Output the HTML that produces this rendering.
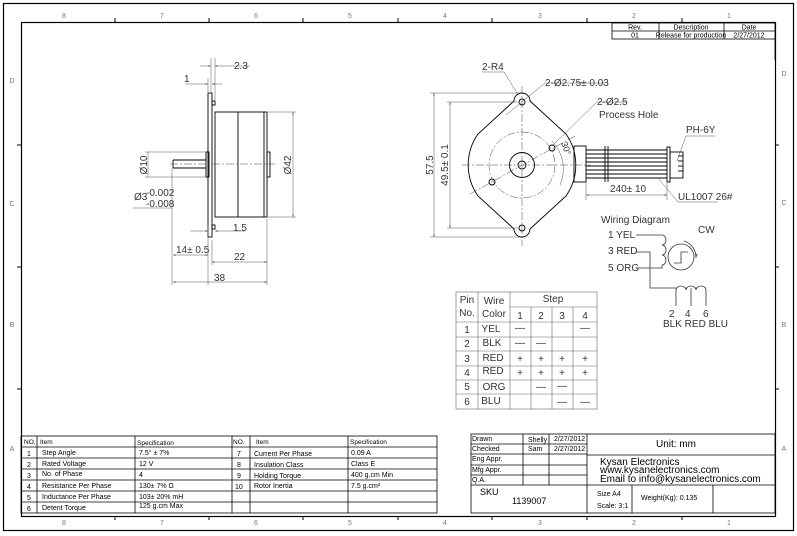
<!DOCTYPE html>
<html><head><meta charset="utf-8"><style>
html,body{margin:0;padding:0;background:#fff;}
svg{display:block;font-family:"Liberation Sans",sans-serif;}
.t{font-size:7px;fill:#000}
.d{font-size:10px;fill:#333}
.g{fill:#777;font-size:7px}
</style></head><body>
<svg width="797" height="536" viewBox="0 0 797 536" xmlns="http://www.w3.org/2000/svg">
<defs><marker id="a" viewBox="0 0 6 6" refX="6" refY="3" markerWidth="5" markerHeight="5" orient="auto-start-reverse"><path d="M0,1 L6,3 L0,5 Z" fill="#555"/></marker></defs>
<rect x="0" y="0" width="797" height="536" fill="#fff"/>
<rect x="3.5" y="3.5" width="790" height="527" fill="none" stroke="#000" stroke-width="1.2"/>
<rect x="21.5" y="22.5" width="754" height="494" fill="none" stroke="#000" stroke-width="1.2"/>
<g stroke="#000" stroke-width="1">
<line x1="115" y1="18" x2="115" y2="22"/><line x1="209" y1="18" x2="209" y2="22"/><line x1="303" y1="18" x2="303" y2="22"/><line x1="398" y1="18" x2="398" y2="22"/><line x1="492" y1="18" x2="492" y2="22"/><line x1="587" y1="18" x2="587" y2="22"/><line x1="682" y1="18" x2="682" y2="22"/>
<line x1="115" y1="516" x2="115" y2="520"/><line x1="209" y1="516" x2="209" y2="520"/><line x1="303" y1="516" x2="303" y2="520"/><line x1="398" y1="516" x2="398" y2="520"/><line x1="492" y1="516" x2="492" y2="520"/><line x1="587" y1="516" x2="587" y2="520"/><line x1="682" y1="516" x2="682" y2="520"/>
<line x1="17" y1="145" x2="21" y2="145"/><line x1="17" y1="267" x2="21" y2="267"/><line x1="17" y1="389" x2="21" y2="389"/>
<line x1="775" y1="145" x2="779" y2="145"/><line x1="775" y1="267" x2="779" y2="267"/><line x1="775" y1="389" x2="779" y2="389"/>
</g>
<g class="g" text-anchor="middle">
<text x="64" y="18">8</text><text x="162" y="18">7</text><text x="256" y="18">6</text><text x="350" y="18">5</text><text x="445" y="18">4</text><text x="540" y="18">3</text><text x="634" y="18">2</text><text x="729" y="18">1</text>
<text x="64" y="525">8</text><text x="162" y="525">7</text><text x="256" y="525">6</text><text x="350" y="525">5</text><text x="445" y="525">4</text><text x="540" y="525">3</text><text x="634" y="525">2</text><text x="729" y="525">1</text>
<text x="12" y="83">D</text><text x="12" y="206">C</text><text x="12" y="327">B</text><text x="12" y="451">A</text>
<text x="784" y="76">D</text><text x="784" y="205">C</text><text x="784" y="327">B</text><text x="784" y="451">A</text>
</g>
<g stroke="#000" stroke-width="0.8" fill="none">
<rect x="612" y="23" width="163" height="16"/>
<line x1="612" y1="31" x2="775" y2="31"/>
<line x1="659" y1="23" x2="659" y2="39"/><line x1="724" y1="23" x2="724" y2="39"/>
<line x1="775" y1="39" x2="775" y2="60"/>
</g>
<g class="t" font-size="5.5" text-anchor="middle" fill="#333">
<text x="635" y="29.5">Rev.</text><text x="691" y="29.5">Description</text><text x="749" y="29.5">Date</text>
<text x="635" y="37.5">01</text><text x="691" y="37.5">Release for production</text><text x="749" y="37.5">2/27/2012</text>
</g>

<!-- SIDE VIEW -->
<g stroke="#000" stroke-width="0.9" fill="none">
<rect x="208" y="93" width="4" height="144"/>
<rect x="212" y="101" width="3" height="4"/><rect x="212" y="225" width="3" height="4"/>
<rect x="215" y="112" width="52" height="105"/>
<line x1="238" y1="112" x2="238" y2="217"/>
<line x1="264" y1="112" x2="264" y2="217"/>
<rect x="206" y="152" width="3" height="25"/>
<rect x="267" y="152" width="3" height="25"/>
<line x1="173" y1="160" x2="206" y2="160"/><line x1="173" y1="168" x2="206" y2="168"/>
<line x1="173" y1="160" x2="173" y2="168"/>
</g>
<line x1="170" y1="164" x2="275" y2="164" stroke="#444" stroke-width="0.5" stroke-dasharray="8,2,2,2"/>
<g stroke="#555" stroke-width="0.5" fill="none">
<line x1="211" y1="58" x2="211" y2="92"/><line x1="215" y1="58" x2="215" y2="100"/>
<line x1="200" y1="66" x2="211" y2="66" marker-end="url(#a)"/><line x1="250" y1="66" x2="215" y2="66" marker-end="url(#a)"/>
<line x1="208" y1="78" x2="208" y2="92"/><line x1="185" y1="84" x2="208" y2="84" marker-end="url(#a)"/><line x1="222" y1="84" x2="212" y2="84" marker-end="url(#a)"/>
<line x1="145" y1="152" x2="205" y2="152"/><line x1="145" y1="177" x2="205" y2="177"/><line x1="148" y1="152" x2="148" y2="177"/>
<line x1="172" y1="168" x2="172" y2="285"/><line x1="133" y1="208" x2="172" y2="208"/>
<line x1="268" y1="112" x2="296" y2="112"/><line x1="268" y1="217" x2="296" y2="217"/><line x1="293" y1="112" x2="293" y2="217" marker-start="url(#a)" marker-end="url(#a)"/>
<line x1="190" y1="231" x2="208" y2="231" marker-end="url(#a)"/><line x1="245" y1="231" x2="215" y2="231" marker-end="url(#a)"/><line x1="208" y1="225" x2="208" y2="285"/>
<line x1="173" y1="255" x2="208" y2="255" marker-start="url(#a)" marker-end="url(#a)"/>
<line x1="212" y1="240" x2="212" y2="265"/><line x1="267" y1="219" x2="267" y2="285"/><line x1="212" y1="262" x2="267" y2="262" marker-start="url(#a)" marker-end="url(#a)"/>
<line x1="173" y1="282" x2="267" y2="282" marker-start="url(#a)" marker-end="url(#a)"/>
</g>
<g class="d">
<text x="234" y="69">2.3</text>
<text x="184" y="82">1</text>
<text x="233" y="231">1.5</text>
<text x="176" y="253">14± 0.5</text>
<text x="234" y="260">22</text>
<text x="214" y="281">38</text>
<text x="134" y="200">Ø3</text><text x="146" y="196">-0.002</text><text x="146" y="207">-0.008</text>
<text transform="translate(147,165) rotate(-90)" text-anchor="middle">Ø10</text>
<text transform="translate(291,165) rotate(-90)" text-anchor="middle">Ø42</text>
</g>

<!-- FRONT VIEW -->
<g stroke="#000" stroke-width="0.9" fill="none">
<path d="M514,101 A8,8 0 0 1 530,101 L566,134 A54,54 0 0 1 566,196 L530,229 A8,8 0 0 1 514,229 L478,196 A54,54 0 0 1 478,134 Z"/>
<circle cx="522" cy="102" r="3"/><circle cx="522" cy="228" r="3"/>
<circle cx="522" cy="165" r="12.5"/><circle cx="522" cy="165" r="4"/>
<circle cx="552" cy="148" r="3"/><circle cx="492" cy="182" r="3"/>
<rect x="574" y="146" width="12" height="36"/>
<line x1="586" y1="150" x2="667" y2="150"/>
<line x1="586" y1="154" x2="667" y2="154"/><line x1="586" y1="158" x2="667" y2="158"/><line x1="586" y1="162" x2="667" y2="162"/><line x1="586" y1="166" x2="667" y2="166"/><line x1="586" y1="170" x2="667" y2="170"/><line x1="586" y1="174" x2="667" y2="174"/><line x1="586" y1="178" x2="667" y2="178"/>
<line x1="605" y1="146" x2="605" y2="182"/><line x1="608" y1="146" x2="608" y2="182"/>
<rect x="667" y="147" width="3" height="35"/>
<rect x="670" y="152" width="13" height="26"/>
<line x1="678" y1="156" x2="683" y2="156"/><line x1="678" y1="161" x2="683" y2="161"/><line x1="678" y1="166" x2="683" y2="166"/><line x1="678" y1="171" x2="683" y2="171"/>
</g>
<g stroke="#444" stroke-width="0.5" fill="none" stroke-dasharray="8,2,2,2">
<circle cx="522" cy="165" r="33"/>
<line x1="462" y1="165" x2="590" y2="165"/>
<line x1="522" y1="86" x2="522" y2="246"/>
<line x1="470" y1="194" x2="575" y2="136"/>
</g>
<g stroke="#555" stroke-width="0.5" fill="none">
<line x1="430" y1="93" x2="520" y2="93"/><line x1="430" y1="237" x2="520" y2="237"/><line x1="434" y1="93" x2="434" y2="237" marker-start="url(#a)" marker-end="url(#a)"/>
<line x1="447" y1="102" x2="518" y2="102"/><line x1="447" y1="228" x2="518" y2="228"/><line x1="450" y1="102" x2="450" y2="228" marker-start="url(#a)" marker-end="url(#a)"/>
<polyline points="482,72 504,72 517,93"/>
<polyline points="605,83 545,83 506,115"/>
<polyline points="626,102 597,102 553,145"/>
<path d="M552,141 A40,40 0 0 1 560,185"/>
<line x1="586" y1="195" x2="667" y2="195" marker-start="url(#a)" marker-end="url(#a)"/><line x1="586" y1="183" x2="586" y2="200"/><line x1="667" y1="183" x2="667" y2="200"/>
<polyline points="718,202 678,202 658,178"/>
<polyline points="715,136 686,136 677,161"/>
</g>
<g class="d">
<text x="482" y="70">2-R4</text>
<text x="545" y="86">2-Ø2.75± 0.03</text>
<text x="597" y="105">2-Ø2.5</text>
<text x="599" y="118">Process Hole</text>
<text x="686" y="133">PH-6Y</text>
<text x="678" y="200">UL1007 26#</text>
<text x="610" y="192">240± 10</text>
<text transform="translate(433,165) rotate(-90)" text-anchor="middle">57.5</text>
<text transform="translate(448,165) rotate(-90)" text-anchor="middle">49.5± 0.1</text>
<text transform="translate(561,143) rotate(70)" font-size="9">30°</text>
</g>

<g class="d" font-size="9">
<text x="601" y="223">Wiring Diagram</text>
<text x="608" y="238">1 YEL</text>
<text x="608" y="254">3 RED</text>
<text x="608" y="271">5 ORG</text>
<text x="698" y="233">CW</text>
<text x="669" y="317">2</text><text x="685" y="317">4</text><text x="703" y="317">6</text>
<text x="663" y="327">BLK RED BLU</text>
</g>
<g stroke="#333" stroke-width="0.8" fill="none">
<polyline points="636,235 662,235"/>
<path d="M662,235 a4,5 0 0 1 0,10 a4,5 0 0 1 0,10 a4,5 0 0 1 0,10"/>
<polyline points="636,252 650,252 650,288 676,288"/>
<polyline points="636,268 662,268 662,265"/>
<path d="M676,290 a5,4 0 0 1 10,0 a5,4 0 0 1 10,0 a5,4 0 0 1 10,0"/>
<line x1="676" y1="290" x2="676" y2="306"/><line x1="691" y1="288" x2="691" y2="306"/><line x1="706" y1="290" x2="706" y2="306"/>
<circle cx="681" cy="257" r="13"/>
<polyline points="674,263 681,263 681,252 688,252"/>
<path d="M684,241 A17,17 0 0 1 696,258" marker-end="url(#a)"/>
</g>

<g stroke="#666" stroke-width="0.6" fill="none">
<rect x="456" y="292" width="141" height="117"/>
<line x1="478" y1="292" x2="478" y2="409"/><line x1="510" y1="292" x2="510" y2="409"/>
<line x1="510" y1="307" x2="597" y2="307"/>
<line x1="531" y1="307" x2="531" y2="409"/><line x1="552" y1="307" x2="552" y2="409"/><line x1="573" y1="307" x2="573" y2="409"/>
<line x1="456" y1="322" x2="597" y2="322"/><line x1="456" y1="337" x2="597" y2="337"/><line x1="456" y1="351" x2="597" y2="351"/><line x1="456" y1="366" x2="597" y2="366"/><line x1="456" y1="380" x2="597" y2="380"/><line x1="456" y1="394" x2="597" y2="394"/>
</g>
<g class="d" font-size="8.5" fill="#444" text-anchor="middle">
<text x="467" y="303">Pin</text><text x="467" y="316">No.</text>
<text x="494" y="304">Wire</text><text x="494" y="317">Color</text>
<text x="553" y="302">Step</text>
<text x="520" y="319">1</text><text x="541" y="319">2</text><text x="562" y="319">3</text><text x="585" y="319">4</text>
<text x="467" y="333">1</text><text x="467" y="347">2</text><text x="467" y="362">3</text><text x="467" y="376">4</text><text x="467" y="390">5</text><text x="467" y="405">6</text>
<text x="491" y="332">YEL</text><text x="492" y="346">BLK</text><text x="493" y="361">RED</text><text x="493" y="374">RED</text><text x="494" y="390">ORG</text><text x="491" y="404">BLU</text>
<text x="520" y="331">—</text><text x="585" y="331">—</text>
<text x="520" y="346">—</text><text x="541" y="346">—</text>
<text x="520" y="362">+</text><text x="541" y="362">+</text><text x="562" y="362">+</text><text x="585" y="362">+</text>
<text x="520" y="376">+</text><text x="541" y="376">+</text><text x="562" y="376">+</text><text x="585" y="376">+</text>
<text x="541" y="390">—</text><text x="562" y="389">—</text>
<text x="562" y="405">—</text><text x="585" y="405">—</text>
</g>

<g stroke="#000" stroke-width="0.8" fill="none">
<rect x="21" y="436" width="416" height="77"/>
<line x1="21" y1="447" x2="437" y2="447"/>
<line x1="21" y1="458" x2="437" y2="458"/>
<line x1="21" y1="469" x2="437" y2="469"/>
<line x1="21" y1="480" x2="437" y2="480"/>
<line x1="21" y1="491" x2="437" y2="491"/>
<line x1="21" y1="502" x2="437" y2="502"/>
<line x1="37" y1="436" x2="37" y2="513"/><line x1="135" y1="436" x2="135" y2="513"/><line x1="232" y1="436" x2="232" y2="513"/><line x1="250" y1="436" x2="250" y2="513"/><line x1="348" y1="436" x2="348" y2="513"/>
</g>
<g class="t">
<text x="24" y="444" font-size="6.5">NO.</text><text x="40" y="444" font-size="6.5">Item</text><text x="137" y="445" font-size="6.5">Specification</text>
<text x="233" y="444" font-size="6.5">NO.</text><text x="256" y="444" font-size="6.5">Item</text><text x="350" y="444" font-size="6.5">Specification</text>
<text x="27" y="456">1</text><text x="42" y="455">Step Angle</text><text x="139" y="455">7.5° ± 7%</text>
<text x="27" y="467">2</text><text x="42" y="466">Rated Voltage</text><text x="139" y="466">12 V</text>
<text x="27" y="478">3</text><text x="42" y="476">No. of Phase</text><text x="139" y="477">4</text>
<text x="27" y="489">4</text><text x="42" y="488">Resistance Per Phase</text><text x="139" y="488">130± 7% Ω</text>
<text x="27" y="500">5</text><text x="42" y="499">Inductance Per Phase</text><text x="139" y="499">103± 20% mH</text>
<text x="27" y="511">6</text><text x="42" y="510">Detent Torque</text><text x="139" y="508">125 g.cm Max</text>
<text x="237" y="456">7</text><text x="254" y="456">Current Per Phase</text><text x="351" y="455">0.09 A</text>
<text x="237" y="467">8</text><text x="254" y="467">Insulation Class</text><text x="351" y="466">Class E</text>
<text x="237" y="478">9</text><text x="254" y="478">Holding Torque</text><text x="351" y="477">400 g.cm Min</text>
<text x="235" y="489">10</text><text x="254" y="488">Rotor Inertia</text><text x="351" y="488">7.5 g.cm²</text>
</g>

<g stroke="#000" stroke-width="0.8" fill="none">
<rect x="471" y="434" width="304" height="79"/>
<line x1="471" y1="444" x2="587" y2="444"/><line x1="471" y1="454" x2="587" y2="454"/><line x1="471" y1="465" x2="587" y2="465"/><line x1="471" y1="475" x2="587" y2="475"/>
<line x1="471" y1="485" x2="775" y2="485"/>
<line x1="523" y1="434" x2="523" y2="485"/><line x1="549" y1="434" x2="549" y2="485"/><line x1="587" y1="434" x2="587" y2="513"/>
<line x1="587" y1="455" x2="775" y2="455"/>
<line x1="632" y1="485" x2="632" y2="513"/><line x1="713" y1="485" x2="713" y2="513"/>
</g>
<g class="t" font-size="5.5">
<text x="472" y="441">Drawn</text><text x="472" y="451">Checked</text><text x="472" y="461">Eng Appr.</text><text x="472" y="472">Mfg Appr.</text><text x="472" y="482">Q.A.</text>
<text x="528" y="442">Shelly</text><text x="528" y="451">Sam</text><text x="554" y="441">2/27/2012</text><text x="554" y="451">2/27/2012</text>
<text x="597" y="496">Size A4</text><text x="597" y="508">Scale: 3:1</text>
</g>
<g class="t">
<text x="480" y="495" font-size="9">SKU</text>
<text x="512" y="504" font-size="9">1139007</text>
<text x="656" y="447" font-size="10">Unit: mm</text>
<text x="600" y="465" font-size="10">Kysan Electronics</text>
<text x="600" y="473" font-size="10">www.kysanelectronics.com</text>
<text x="600" y="482" font-size="10">Email to info@kysanelectronics.com</text>
<text x="641" y="500" font-size="7">Weight(Kg): 0.135</text>
</g>
</svg>
</body></html>
